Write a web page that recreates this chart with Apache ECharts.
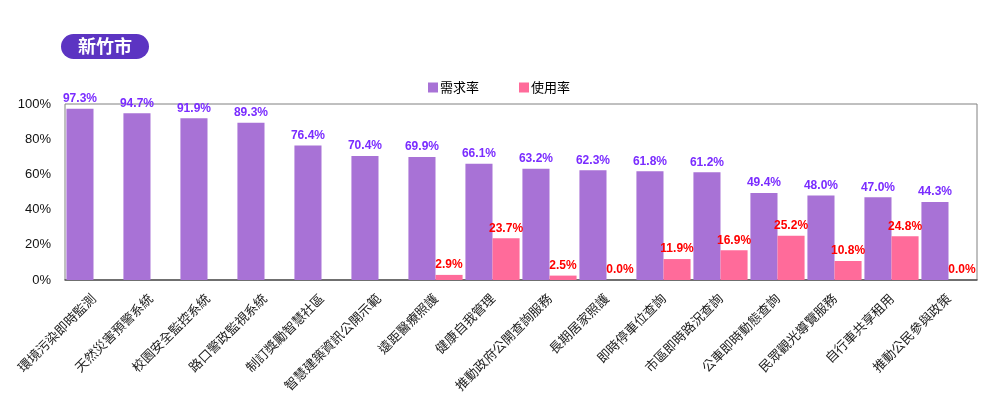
<!DOCTYPE html>
<html><head><meta charset="utf-8">
<script src="https://cdn.jsdelivr.net/npm/echarts@6/dist/echarts.min.js"></script>
<style>html,body{margin:0;padding:0;background:#fff}#c{width:990px;height:397px}</style>
</head><body><div id="c"></div>
<script>
const categories = ['環境污染即時監測','天然災害預警系統','校園安全監控系統','路口警政監視系統','制訂獎勵智慧社區','智慧建築資訊公開示範','遠距醫療照護','健康自我管理','推動政府公開查詢服務','長期居家照護','即時停車位查詢','市區即時路況查詢','公車即時動態查詢','民眾觀光導覽服務','自行車共享租用','推動公民參與政策'];
const demandRate = [97.3,94.7,91.9,89.3,76.4,70.4,69.9,66.1,63.2,62.3,61.8,61.2,49.4,48.0,47.0,44.3];
const usageRate = [null,null,null,null,null,null,2.9,23.7,2.5,0.0,11.9,16.9,25.2,10.8,24.8,0.0];
const yTicks = [0,20,40,60,80,100];
const seriesNames = ['需求率','使用率'];
const cityName = '新竹市';

const chart = echarts.init(document.getElementById('c'));
const font = 'Liberation Sans, Arial, sans-serif';
chart.setOption({
  animation:false,
  title:{text:cityName,left:61,top:34,backgroundColor:'#5c34c2',borderRadius:13,padding:[3,17,3,17],
    textStyle:{color:'#fff',fontSize:18,fontWeight:'bold',fontFamily:'Noto Sans CJK TC',lineHeight:19}},
  legend:{data:seriesNames,top:76,left:423,itemWidth:10,itemHeight:10,itemGap:40,icon:'rect',
    textStyle:{fontSize:13,color:'#000',fontFamily:'Noto Sans CJK TC',padding:[0,0,0,-3]}},
  grid:{left:65,right:13,top:104,bottom:117,show:true,borderColor:'#808080',borderWidth:1},
  xAxis:{type:'category',data:categories,
    axisLine:{show:true,lineStyle:{color:'#555',width:1.5}},axisTick:{show:false},
    axisLabel:{rotate:45,interval:0,fontSize:13,color:'#222',margin:16,fontFamily:'Noto Sans CJK TC'}},
  yAxis:{type:'value',min:yTicks[0],max:yTicks[yTicks.length-1],interval:20,
    splitLine:{show:false},axisLine:{show:false},axisTick:{show:false},
    axisLabel:{formatter:v=>v+'%',fontSize:13,color:'#111',margin:14,fontFamily:font}},
  series:[
    {name:seriesNames[0],type:'bar',data:demandRate,barGap:'0%',barCategoryGap:'5%',
     itemStyle:{color:'#a872d6'},
     label:{show:true,position:'top',distance:4,formatter:p=>p.value.toFixed(1)+'%',
       color:'#7a2cff',fontWeight:'bold',fontSize:12,fontFamily:font}},
    {name:seriesNames[1],type:'bar',data:usageRate,barGap:'0%',barCategoryGap:'5%',
     itemStyle:{color:'#ff6b9a'},
     label:{show:true,position:'top',distance:4,formatter:p=>p.value==null?'':p.value.toFixed(1)+'%',
       color:'#ff0000',fontWeight:'bold',fontSize:12,fontFamily:font}}
  ]
});
</script></body></html>
